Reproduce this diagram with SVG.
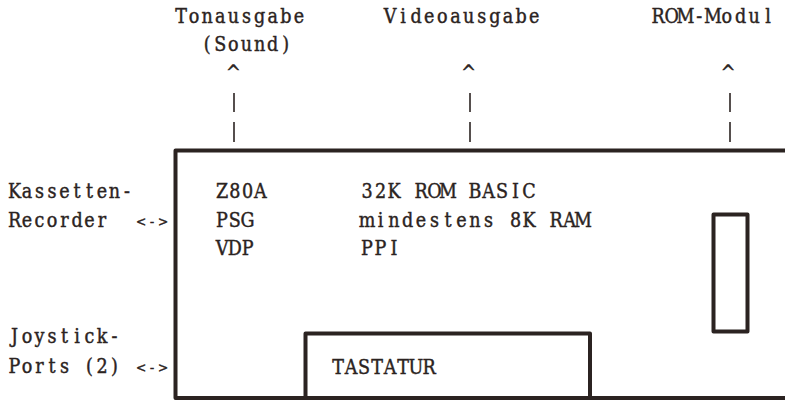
<svg xmlns="http://www.w3.org/2000/svg" width="785" height="400" viewBox="0 0 785 400">
<style>
.t{font-family:"DejaVu Serif Condensed","DejaVu Serif","Liberation Serif",serif;font-size:19.5px;fill:#2b2321;stroke:#2b2321;stroke-width:0.4px;text-anchor:middle}
.arr{font-family:"DejaVu Serif Condensed","DejaVu Serif","Liberation Serif",serif;font-size:13.5px;fill:#2b2321;stroke:#2b2321;stroke-width:0.5px;text-anchor:middle}
.box{fill:none;stroke:#2b2321;stroke-width:4;stroke-linejoin:round}
.bar{stroke:#2b2321;stroke-width:1.6}
</style>
<rect width="785" height="400" fill="#ffffff"/>
<g id="computer">
<path class="box" d="M785 150.5 H175.5 V398 H785"/>
<text class="t" x="222 234.8 247.6 260.4" y="198">Z80A</text>
<text class="t" x="222 234.8 247.6" y="227">PSG</text>
<text class="t" x="222 234.8 247.6" y="255">VDP</text>
<text class="t" x="367 380.5 394 407.5 421 434.5 448 461.5 475 488.5 502 515.5 529" y="198">32K ROM BASIC</text>
<text class="t" x="367 380.5 394 407.5 421 434.5 448 461.5 475 488.5 502 515.5 529 542.5 556 569.5 583" y="227">mindestens 8K RAM</text>
<text class="t" x="367 380.5 394" y="255">PPI</text>
</g>
<g id="tastatur">
<path class="box" d="M305.5 398 V333.5 H590 V398"/>
<text class="t" x="338 351 364 377 390 403 416 429" y="374">TASTATUR</text>
</g>
<g id="rom-slot">
<rect class="box" x="713.5" y="214.5" width="34" height="117" stroke-width="3.5"/>
</g>
<g id="tonausgabe">
<text class="t" x="181 194.1 207.2 220.3 233.4 246.5 259.6 272.7 285.8 298.9" y="23">Tonausgabe</text>
<text class="t" x="207.2 220.3 233.4 246.5 259.6 272.7 285.8" y="51">(Sound)</text>
</g>
<g id="videoausgabe">
<text class="t" x="390 403.1 416.2 429.3 442.4 455.5 468.6 481.7 494.8 507.9 521 534.1" y="23">Videoausgabe</text>
</g>
<g id="rom-modul">
<text class="t" x="658 671.75 685.5 699.25 713 726.75 740.5 754.25 768" y="23">ROM-Modul</text>
</g>
<g id="kassetten">
<text class="t" x="14.5 27 39.5 52 64.5 77 89.5 102 114.5 127" y="198">Kassetten-</text>
<text class="t" x="14.5 27 39.5 52 64.5 77 89.5 102" y="227">Recorder</text>
</g>
<g id="joystick">
<text class="t" x="14.5 27 39.5 52 64.5 77 89.5 102 114.5" y="343">Joystick-</text>
<text class="t" x="14.5 27 39.5 52 64.5 77 89.5 102 114.5" y="373">Ports (2)</text>
</g>
<g id="connectors">
<text class="t" x="233.4" y="79">^</text>
<line class="bar" x1="234" y1="93" x2="234" y2="112"/>
<line class="bar" x1="234" y1="122" x2="234" y2="142"/>
<text class="t" x="468.6" y="79">^</text>
<line class="bar" x1="470" y1="93" x2="470" y2="112"/>
<line class="bar" x1="470" y1="122" x2="470" y2="142"/>
<text class="t" x="728" y="79">^</text>
<line class="bar" x1="730" y1="93" x2="730" y2="112"/>
<line class="bar" x1="730" y1="122" x2="730" y2="142"/>
<text class="arr" x="141 152 163" y="225.5">&lt;-&gt;</text>
<text class="arr" x="141 152 163" y="371.5">&lt;-&gt;</text>
</g>
</svg>
